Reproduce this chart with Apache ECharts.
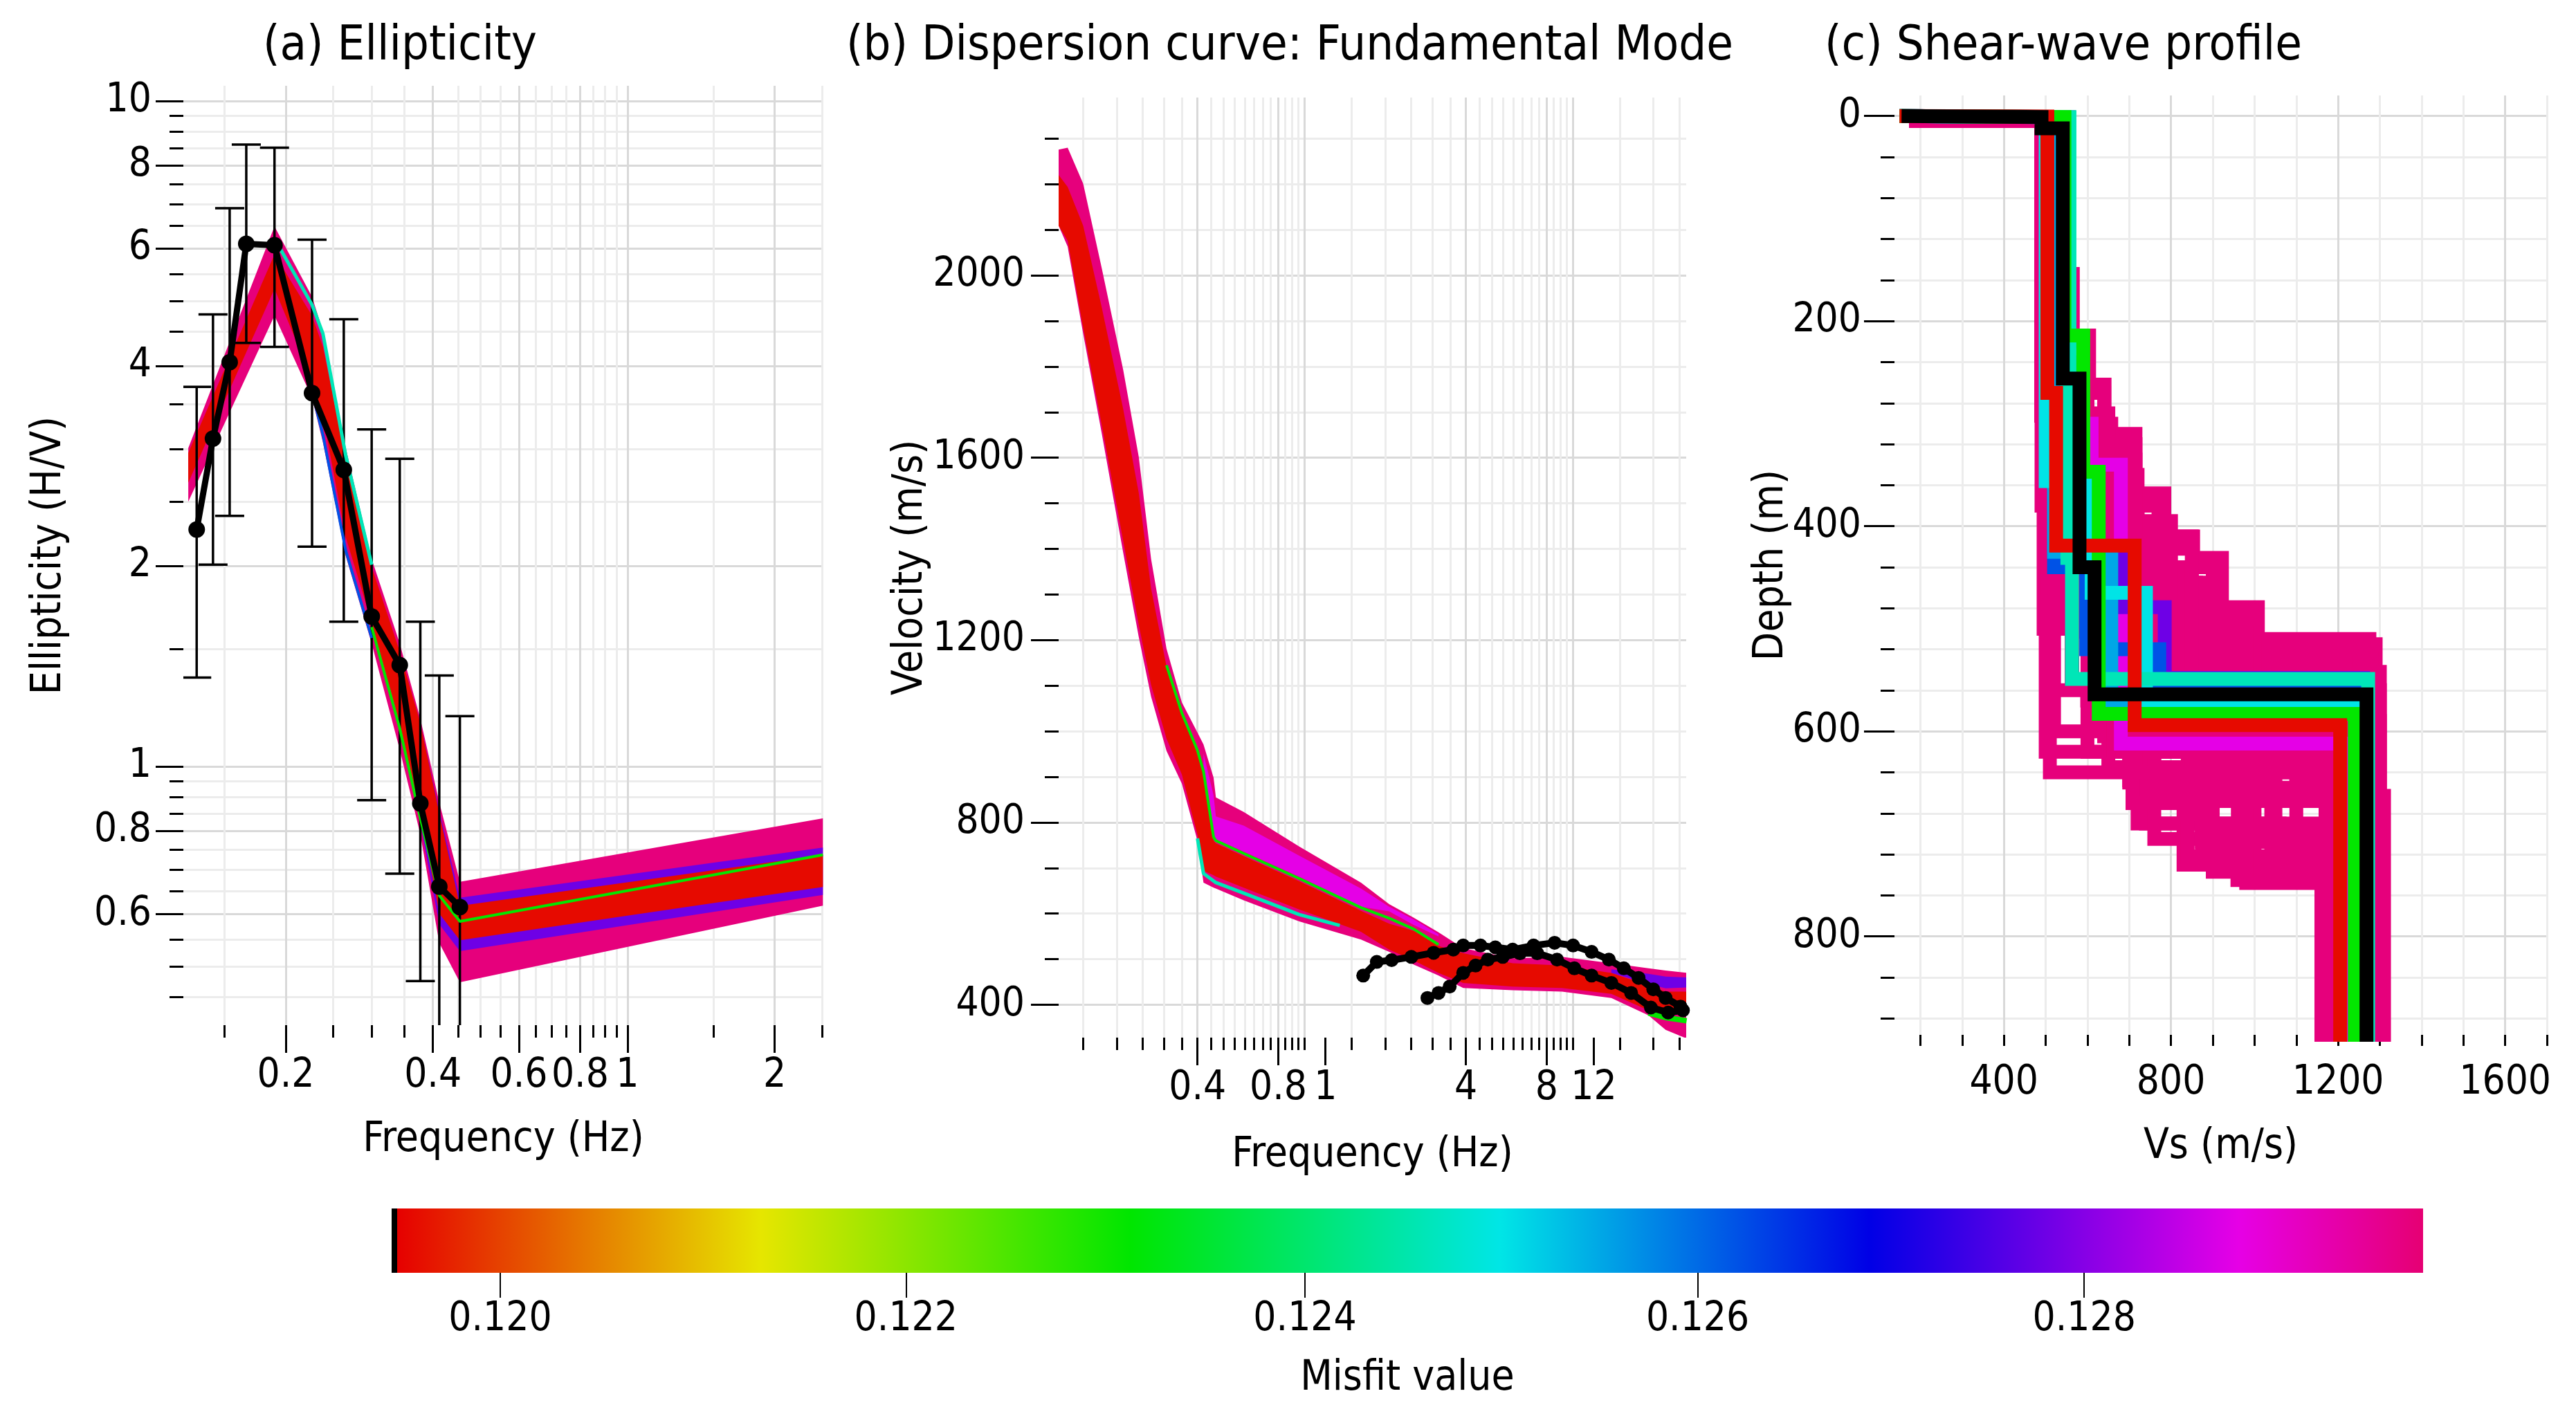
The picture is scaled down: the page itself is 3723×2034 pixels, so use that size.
<!DOCTYPE html>
<html>
<head>
<meta charset="utf-8">
<title>Ellipticity, dispersion and shear-wave profile</title>
<script src="https://cdn.jsdelivr.net/npm/echarts@6.0.0/dist/echarts.min.js"></script>
<style>
  html, body { margin: 0; padding: 0; background: #fff; }
  #chart { width: 3723px; height: 2034px; }
</style>
</head>
<body>
<div id="chart"></div>
<script>
var FONT = '"DejaVu Sans Condensed", "DejaVu Sans", sans-serif';
var MAJ = '#d9d9d9', MIN = '#ececec';
var L = function (v) { return Math.log10(v); };

// ---------- (a) ellipticity : observed points + error bars ----------
var ellObsFreq = [0.1315, 0.1420, 0.1536, 0.1661, 0.1897, 0.2264, 0.2629, 0.2998, 0.3422, 0.3770, 0.4122, 0.4542];
var ellObsVal  = [2.27, 3.11, 4.05, 6.10, 6.07, 3.64, 2.79, 1.68, 1.42, 0.88, 0.66, 0.615];
var ellErrHi   = [3.72, 4.78, 6.90, 8.60, 8.51, 6.19, 4.70, 3.21, 2.90, 1.65, 1.37, 1.19];
var ellErrLo   = [1.36, 2.01, 2.38, 4.33, 4.27, 2.14, 1.65, 0.89, 0.69, 0.476, 0.32, 0.32];

// model envelopes (a)
var ellModelFreq = [0.1264, 0.1897, 0.2264, 0.2383, 0.2654, 0.2998, 0.3422, 0.3770, 0.4122, 0.4542, 2.51];
var ellPinkHi = [3.01, 6.48, 5.08, 4.51, 3.01, 2.05, 1.53, 1.18, 0.883, 0.671, 0.836];
var ellPinkLo = [2.50, 4.76, 3.58, 3.07, 2.07, 1.53, 1.06, 0.791, 0.543, 0.474, 0.618];
var ellRedHi  = [2.96, 5.88, 4.76, 4.27, 2.90, 1.995, 1.488, 1.162, 0.851, 0.6175, 0.7365];
var ellRedLo  = [2.67, 5.22, 3.82, 3.36, 2.21, 1.646, 1.162, 0.851, 0.601, 0.548, 0.659];
var ellPurpleFreq = [0.3770, 0.4122, 0.4542, 2.51];
var ellPurpleHi = [1.162, 0.859, 0.635, 0.7556];
var ellPurpleLo = [0.82, 0.579, 0.528, 0.641];
var ellGreenFreq = [0.2998, 0.3422, 0.3770, 0.4122, 0.4542, 2.51];
var ellGreenVal  = [1.62, 1.14, 0.836, 0.64, 0.585, 0.7365];
var ellMintFreq = [0.1897, 0.2264, 0.2383, 0.2654, 0.2998];
var ellMintVal  = [6.21, 4.94, 4.47, 2.93, 2.01];
var ellBlueFreq = [0.2264, 0.2383, 0.2654, 0.2998];
var ellBlueVal  = [3.65, 3.15, 2.11, 1.56];

var ellXMajor = [0.2, 0.4, 0.6, 0.8, 1, 2];
var ellXLabels = ['0.2', '0.4', '0.6', '0.8', '1', '2'];
var ellXMinor = [0.15, 0.25, 0.3, 0.35, 0.45, 0.5, 0.55, 0.65, 0.7, 0.75, 0.85, 0.9, 0.95, 1.5, 2.5];
var ellYMajor = [0.6, 0.8, 1, 2, 4, 6, 8, 10];
var ellYLabels = ['0.6', '0.8', '1', '2', '4', '6', '8', '10'];
var ellYMinor = [0.45, 0.5, 0.55, 0.65, 0.7, 0.75, 0.85, 0.9, 0.95, 1.5, 2.5, 3, 3.5, 4.5, 5, 5.5, 6.5, 7, 7.5, 8.5, 9, 9.5];

// ---------- (b) dispersion curve ----------
var dispModelFreq = [0.1215, 0.1313, 0.1500, 0.1757, 0.2114, 0.2416, 0.2686, 0.3066, 0.3499, 0.3999, 0.4212, 0.4592, 0.4684,
                     0.5945, 0.9575, 1.627, 2.071, 2.560, 3.164, 3.91, 5.976, 9.13, 13.94, 19.16, 22.21, 26.6];
var dispPinkHi = [2276, 2280, 2201, 2017, 1793, 1602, 1378, 1181, 1063, 997, 971, 898, 855, 823, 747, 668, 621, 591, 559, 524, 502, 505, 491, 480, 475, 470];
var dispPinkLo = [2109, 2063, 1872, 1655, 1392, 1207, 1076, 957, 885, 760, 668, 657, 655, 629, 583, 543, 516, 488, 464, 437, 432, 429, 415, 377, 345, 326];
var dispRedHi  = [2220, 2194, 2109, 1931, 1707, 1523, 1313, 1142, 1036, 950, 905, 760, 754, 726, 671, 606, 578, 562, 529, 513, 491, 486, 470, 442, 429, 429];
var dispRedLo  = [2109, 2076, 1885, 1674, 1418, 1234, 1102, 984, 905, 773, 694, 684, 681, 657, 609, 560, 521, 497, 470, 448, 440, 437, 424, 388, 383, 383];
var dispMagentaFreq = [0.4212, 0.4592, 0.4684, 0.5945, 0.9575, 1.627, 2.071, 2.560, 3.164];
var dispMagentaHi = [951, 860, 813, 793, 727, 655, 615, 587, 555];
var dispMagentaLo = [905, 771, 763, 736, 681, 615, 605, 575, 550];
var dispPurpleFreq = [13.94, 19.16, 22.21, 26.6];
var dispPurpleHi = [478, 468, 462, 460];
var dispPurpleLo = [470, 446, 436, 438];
var dispGreenFreq = [0.3066, 0.3499, 0.3999, 0.4212, 0.4592, 0.4684, 0.5945, 0.9575, 1.627, 2.071, 2.560, 3.164];
var dispGreenVal  = [1145, 1040, 958, 912, 768, 760, 732, 677, 613, 590, 566, 532];
var dispGreen2Freq = [19.16, 22.21, 26.6];
var dispGreen2Val  = [382, 372, 365];
var dispMintFreq = [0.3999, 0.4212, 0.4684, 0.5945, 0.9575, 1.356];
var dispMintVal  = [765, 688, 668, 645, 598, 574];

var dispObsAFreq = [1.658, 1.863, 2.116, 2.506, 3.034, 3.593, 3.91, 4.536, 5.151, 5.976, 7.152, 8.568, 10.04, 11.77, 13.65, 15.51, 17.61, 19.98, 22.21, 25.24];
var dispObsAVel  = [464, 494, 498, 505, 514, 521, 530, 530, 526, 521, 530, 536, 530, 516, 499, 480, 459, 434, 415, 396];
var dispObsBFreq = [2.877, 3.164, 3.482, 3.91, 4.348, 4.832, 5.489, 6.365, 7.385, 8.75, 10.15, 11.77, 13.94, 16.52, 19.57, 22.7, 25.77];
var dispObsBVel  = [415, 426, 440, 470, 486, 499, 505, 513, 513, 499, 480, 464, 448, 426, 394, 383, 388];

var dispXLabelVals = [0.4, 0.8, 1.2, 4, 8, 12];
var dispXLabels = ['0.4', '0.8', '1', '4', '8', '12'];
var dispXMinor = [0.15, 0.2, 0.25, 0.3, 0.35, 0.45, 0.5, 0.55, 0.6, 0.65, 0.7, 0.75, 0.85, 0.9, 0.95, 1, 1.5, 2, 2.5, 3, 3.5,
                  4.5, 5, 5.5, 6, 6.5, 7, 7.5, 8.5, 9, 9.5, 10, 15, 20, 25];
var dispXGrid = [0.4, 0.8, 1, 4, 8, 10];
var dispYMajor = [400, 800, 1200, 1600, 2000];
var dispYMinor = [500, 600, 700, 900, 1000, 1100, 1300, 1400, 1500, 1700, 1800, 1900, 2100, 2200, 2300];

// ---------- (c) shear-wave profiles: layer velocity and layer top depth ----------
var pinkVs = [
  [190, 490, 505, 541, 563, 600, 663, 708, 832, 874, 959, 1170],
  [190, 555, 565, 604, 641, 657, 715, 784, 853, 922, 1008, 1275, 1296, 1310],
  [190, 500, 600, 700, 760, 850, 1250],
  [190, 495, 590, 680, 745, 800, 900, 1230],
  [190, 520, 640, 720, 790, 880, 960, 1170],
  [190, 510, 650, 770, 840, 950, 1280],
  [190, 505, 600, 700, 820, 1000, 1300],
  [190, 490, 560, 650, 700, 830, 1170],
  [190, 530, 600, 690, 760, 920, 1290],
  [190, 515, 580, 660, 740, 1060, 1170],
  [190, 540, 700, 780, 870, 1100, 1290],
  [190, 525, 610, 700, 900, 1240],
  [190, 500, 620, 760, 1000, 1170],
  [190, 510, 680, 860, 1100, 1240],
  [190, 500, 620, 1170],
  [190, 505, 640, 1200],
  [190, 510, 600, 1180],
  [190, 495, 650, 1050, 1170],
  [190, 500, 700, 1040, 1300],
  [190, 500, 660, 720, 1170],
  [190, 510, 760, 1180],
  [190, 520, 840, 1190],
  [190, 500, 900, 1160],
  [190, 510, 980, 1200],
  [190, 500, 700, 1290],
  [190, 505, 740, 1280],
  [190, 515, 780, 1300],
  [190, 505, 630, 880, 1250],
  [190, 510, 660, 900, 1200],
  [190, 500, 700, 820, 1250],
  [190, 520, 740, 960, 1180],
  [190, 530, 600, 860, 1280],
  [190, 510, 580, 650, 1230],
  [190, 500, 620, 720, 1300],
  [190, 490, 505, 541, 563, 600, 663, 708, 1170],
  [190, 490, 505, 541, 563, 600, 663, 708, 1180],
  [190, 490, 505, 541, 563, 600, 663, 708, 1200],
  [190, 490, 505, 541, 563, 600, 663, 708, 832, 874, 1170],
  [190, 490, 505, 541, 563, 600, 663, 708, 832, 874, 1180],
  [190, 490, 505, 541, 1000, 1250],
  [190, 490, 505, 541, 563, 980, 1280],
  [190, 490, 505, 900, 1230],
  [190, 490, 505, 541, 920, 1200],
  [190, 490, 505, 541, 900, 1180],
  [190, 490, 505, 780, 1250],
  [190, 490, 505, 800, 1240],
  [190, 490, 505, 850, 1260],
  [190, 490, 505, 850, 1230],
  [190, 490, 505, 715, 1260],
  [190, 490, 505, 715, 1240],
  [190, 490, 505, 715, 1280]
];
var pinkTop = [
  [0, 5, 292, 449, 497, 555, 570, 618, 670, 681, 715, 745],
  [0, 5, 154, 214, 262, 300, 310, 368, 410, 431, 479, 510, 549, 663],
  [0, 5, 240, 330, 400, 470, 530],
  [0, 5, 300, 360, 420, 460, 560, 620],
  [0, 5, 270, 350, 430, 500, 640, 700],
  [0, 5, 290, 380, 440, 505, 560],
  [0, 5, 250, 340, 450, 540, 590],
  [0, 5, 380, 470, 600, 650, 730],
  [0, 5, 220, 320, 445, 520, 580],
  [0, 5, 330, 480, 560, 690, 745],
  [0, 5, 360, 410, 470, 600, 650],
  [0, 5, 310, 420, 545, 610],
  [0, 5, 350, 520, 660, 740],
  [0, 5, 380, 480, 620, 700],
  [0, 5, 450, 590],
  [0, 5, 470, 605],
  [0, 5, 480, 620],
  [0, 5, 500, 635, 700],
  [0, 5, 480, 648, 720],
  [0, 5, 460, 560, 690],
  [0, 5, 560, 705],
  [0, 5, 600, 722],
  [0, 5, 620, 737],
  [0, 5, 640, 748],
  [0, 5, 440, 515],
  [0, 5, 460, 530],
  [0, 5, 470, 542],
  [0, 5, 420, 490, 600],
  [0, 5, 400, 480, 560],
  [0, 5, 390, 470, 520],
  [0, 5, 420, 495, 580],
  [0, 5, 330, 455, 545],
  [0, 5, 270, 360, 600],
  [0, 5, 300, 380, 560],
  [0, 5, 292, 449, 497, 555, 570, 618, 655],
  [0, 5, 292, 449, 497, 555, 570, 618, 668],
  [0, 5, 292, 449, 497, 555, 570, 618, 640],
  [0, 5, 292, 449, 497, 555, 570, 618, 670, 681, 695],
  [0, 5, 292, 449, 497, 555, 570, 618, 670, 681, 708],
  [0, 5, 292, 449, 490, 560],
  [0, 5, 292, 449, 497, 503, 575],
  [0, 5, 292, 440, 590],
  [0, 5, 292, 449, 455, 600],
  [0, 5, 292, 449, 468, 610],
  [0, 5, 292, 380, 560],
  [0, 5, 292, 395, 570],
  [0, 5, 292, 410, 585],
  [0, 5, 292, 422, 630],
  [0, 5, 292, 320, 620],
  [0, 5, 292, 335, 640],
  [0, 5, 292, 350, 600]
];
var magentaVs = [150, 555, 610, 680, 1210],      magentaTop = [0, 1, 300, 340, 612];
var purpleVs  = [150, 525, 683, 785, 1260],      purpleTop  = [0, 1, 430, 479, 548];
var blueVs    = [150, 520, 597, 772, 1258],      blueTop    = [0, 1, 440, 520, 560];
var skyVs     = [150, 520, 657, 1250],           skyTop     = [0, 1, 425, 572];
var cyanVs    = [150, 500, 610, 740, 1245],      cyanTop    = [0, 1, 356, 465, 576];
var mintVs    = [150, 557, 552, 563, 1272],      mintTop    = [0, 1, 262, 431, 549];
var greenVs   = [150, 545, 590, 627, 1240],      greenTop   = [0, 1, 214, 347, 583];
var redVs     = [150, 504, 525, 713, 1205],      redTop     = [0, 0.5, 270, 419, 594];
var bestVs    = [155, 490, 541, 581, 617, 1268], bestTop    = [0, 1, 12, 256, 440, 564];
var profileEnd = 950;

var profXMajor = [400, 800, 1200, 1600];
var profXMinor = [200, 300, 500, 600, 700, 900, 1000, 1100, 1300, 1400, 1500, 1700];
var profYMajor = [0, 200, 400, 600, 800];
var profYMinor = [40, 80, 120, 160, 240, 280, 320, 360, 440, 480, 520, 560, 640, 680, 720, 760, 840, 880];

// ---------- misfit values and colour scale ----------
var misfitPink = 0.1297, misfitMagenta = 0.1288, misfitPurple = 0.1278, misfitBlue = 0.1262,
    misfitSky = 0.1255, misfitCyan = 0.1250, misfitMint = 0.1246, misfitGreen = 0.1231, misfitRed = 0.11955;
var cbMin = 0.11947, cbMax = 0.12978;
var cbTicks = [0.120, 0.122, 0.124, 0.126, 0.128];
var cbLabels = ['0.120', '0.122', '0.124', '0.126', '0.128'];

function hueColor(h) {
  var c = 230, hp = h / 60, x = c * (1 - Math.abs(hp % 2 - 1)), r = 0, g = 0, b = 0;
  if (hp < 1) { r = c; g = x; } else if (hp < 2) { r = x; g = c; } else if (hp < 3) { g = c; b = x; }
  else if (hp < 4) { g = x; b = c; } else if (hp < 5) { r = x; b = c; } else { r = c; b = x; }
  return 'rgb(' + Math.round(r) + ',' + Math.round(g) + ',' + Math.round(b) + ')';
}
function misfitColor(m) {
  var t = (L(m) - L(cbMin)) / (L(cbMax) - L(cbMin));
  return hueColor(330 * Math.max(0, Math.min(1, t)));
}

// ---------- helpers ----------
function fmt(values, labels) {
  return function (v) {
    for (var i = 0; i < values.length; i++) if (Math.abs(values[i] - v) < 1e-6) return labels[i];
    return '';
  };
}
function axis(gridIndex, min, max, values, o) {
  var ax = {
    type: 'value', gridIndex: gridIndex, min: min, max: max, inverse: !!o.inverse, position: o.position,
    axisLine: { show: false, onZero: false },
    axisTick: { show: !!o.tickLen, customValues: values, length: o.tickLen || 0,
                lineStyle: { color: '#000', width: o.tickWidth || 3 } },
    axisLabel: { show: false },
    splitLine: { show: !!o.grid, customValues: values, lineStyle: { color: o.grid, width: 3 } },
    minorTick: { show: false }, minorSplitLine: { show: false },
    silent: true
  };
  if (o.labels) {
    ax.axisLabel = { show: true, customValues: values, formatter: fmt(values, o.labels), hideOverlap: false,
                     fontSize: 58, fontFamily: FONT, color: '#000', margin: o.margin };
  }
  if (o.name) {
    ax.name = o.name; ax.nameLocation = 'middle'; ax.nameGap = o.nameGap; ax.nameMoveOverlap = false;
    ax.nameTextStyle = { fontSize: 60, fontFamily: FONT, color: '#000' };
  }
  return ax;
}
function band(xi, yi, freq, hi, lo, misfit, logY) {
  var ty = logY ? L : function (v) { return v; };
  var ring = [];
  for (var i = 0; i < freq.length; i++) ring.push([L(freq[i]), ty(hi[i])]);
  for (var j = freq.length - 1; j >= 0; j--) ring.push([L(freq[j]), ty(lo[j])]);
  var color = misfitColor(misfit);
  return {
    type: 'custom', xAxisIndex: xi, yAxisIndex: yi, clip: true, silent: true, data: ring,
    renderItem: function (params, api) {
      if (params.dataIndex !== 0) return null;
      var pts = [];
      for (var k = 0; k < params.dataInsideLength; k++) pts.push(api.coord([api.value(0, k), api.value(1, k)]));
      return { type: 'polygon', shape: { points: pts }, style: { fill: color } };
    }
  };
}
function curve(xi, yi, freq, vals, color, width, logY) {
  return {
    type: 'line', xAxisIndex: xi, yAxisIndex: yi, silent: true, clip: true, showSymbol: false,
    data: freq.map(function (f, i) { return [L(f), logY ? L(vals[i]) : vals[i]]; }),
    lineStyle: { color: color, width: width }
  };
}
function observed(xi, yi, freq, vals, width, size, logY) {
  return {
    type: 'line', xAxisIndex: xi, yAxisIndex: yi, silent: true, clip: true,
    symbol: 'circle', symbolSize: size, showSymbol: true,
    data: freq.map(function (f, i) { return [L(f), logY ? L(vals[i]) : vals[i]]; }),
    itemStyle: { color: '#000' }, lineStyle: { color: '#000', width: width }
  };
}
function profile(vs, top, color) {
  var pts = [];
  for (var i = 0; i < vs.length; i++) {
    var bottom = i + 1 < top.length ? top[i + 1] : profileEnd;
    pts.push([vs[i], top[i]], [vs[i], bottom]);
  }
  return {
    type: 'line', xAxisIndex: 5, yAxisIndex: 4, silent: true, clip: true, showSymbol: false, data: pts,
    lineStyle: { color: color, width: 20, join: 'miter', cap: 'butt' }
  };
}

// ---------- series ----------
var series = [];
// (a)
series.push(band(0, 0, ellModelFreq, ellPinkHi, ellPinkLo, misfitPink, true));
series.push(band(0, 0, ellPurpleFreq, ellPurpleHi, ellPurpleLo, misfitPurple, true));
series.push(band(0, 0, ellModelFreq, ellRedHi, ellRedLo, misfitRed, true));
series.push(curve(0, 0, ellBlueFreq, ellBlueVal, misfitColor(misfitBlue), 4, true));
series.push(curve(0, 0, ellMintFreq, ellMintVal, misfitColor(misfitMint), 5, true));
series.push(curve(0, 0, ellGreenFreq, ellGreenVal, misfitColor(misfitGreen), 4, true));
series.push({
  type: 'custom', xAxisIndex: 0, yAxisIndex: 0, clip: true, silent: true,
  data: ellObsFreq.map(function (f, i) { return [L(f), L(ellErrLo[i]), L(ellErrHi[i])]; }),
  encode: { x: 0, y: [1, 2] },
  renderItem: function (params, api) {
    var lo = api.coord([api.value(0), api.value(1)]);
    var hi = api.coord([api.value(0), api.value(2)]);
    var st = { stroke: '#000', lineWidth: 3.5 };
    return { type: 'group', children: [
      { type: 'line', shape: { x1: lo[0], y1: lo[1], x2: hi[0], y2: hi[1] }, style: st },
      { type: 'line', shape: { x1: lo[0] - 21, y1: lo[1], x2: lo[0] + 21, y2: lo[1] }, style: st },
      { type: 'line', shape: { x1: hi[0] - 21, y1: hi[1], x2: hi[0] + 21, y2: hi[1] }, style: st }
    ] };
  }
});
series.push(observed(0, 0, ellObsFreq, ellObsVal, 9, 24, true));
// (b)
series.push(band(2, 2, dispModelFreq, dispPinkHi, dispPinkLo, misfitPink, false));
series.push(band(2, 2, dispMagentaFreq, dispMagentaHi, dispMagentaLo, misfitMagenta, false));
series.push(band(2, 2, dispPurpleFreq, dispPurpleHi, dispPurpleLo, misfitPurple, false));
series.push(band(2, 2, dispModelFreq, dispRedHi, dispRedLo, misfitRed, false));
series.push(curve(2, 2, dispMintFreq, dispMintVal, misfitColor(misfitMint), 5, false));
series.push(curve(2, 2, dispGreenFreq, dispGreenVal, misfitColor(misfitGreen), 4, false));
series.push(curve(2, 2, dispGreen2Freq, dispGreen2Val, misfitColor(misfitGreen), 8, false));
series.push(observed(2, 2, dispObsAFreq, dispObsAVel, 10, 20, false));
series.push(observed(2, 2, dispObsBFreq, dispObsBVel, 10, 20, false));
// (c)
var pinkColor = misfitColor(misfitPink);
for (var p = 0; p < pinkVs.length; p++) series.push(profile(pinkVs[p], pinkTop[p], pinkColor));
series.push(profile(magentaVs, magentaTop, misfitColor(misfitMagenta)));
series.push(profile(purpleVs, purpleTop, misfitColor(misfitPurple)));
series.push(profile(blueVs, blueTop, misfitColor(misfitBlue)));
series.push(profile(skyVs, skyTop, misfitColor(misfitSky)));
series.push(profile(cyanVs, cyanTop, misfitColor(misfitCyan)));
series.push(profile(mintVs, mintTop, misfitColor(misfitMint)));
series.push(profile(greenVs, greenTop, misfitColor(misfitGreen)));
series.push(profile(redVs, redTop, misfitColor(misfitRed)));
series.push(profile(bestVs, bestTop, '#000'));
// colour bar
var cbStops = [{ offset: 0, color: '#000' }, { offset: 0.0028, color: '#000' }];
for (var s = 0; s < 12; s++) cbStops.push({ offset: Math.max(0.0028, s / 11), color: hueColor(30 * s) });
series.push({
  type: 'custom', xAxisIndex: 7, yAxisIndex: 6, silent: true,
  data: [[L(cbMin), L(cbMax)]],
  renderItem: function (params, api) {
    var a = api.coord([api.value(0), 1]);
    var b = api.coord([api.value(1), 0]);
    return { type: 'rect', shape: { x: a[0], y: a[1], width: b[0] - a[0], height: b[1] - a[1] },
             style: { fill: { type: 'linear', x: 0, y: 0, x2: 1, y2: 0, colorStops: cbStops } } };
  }
});

var option = {
  animation: false,
  backgroundColor: '#fff',
  textStyle: { fontFamily: FONT },
  grid: [
    { left: 265, top: 124, width: 925, height: 1358, outerBoundsMode: 'none' },
    { left: 1530, top: 141, width: 907, height: 1359, outerBoundsMode: 'none' },
    { left: 2738, top: 138, width: 943, height: 1358, outerBoundsMode: 'none' },
    { left: 566, top: 1747, width: 2936, height: 93, outerBoundsMode: 'none' }
  ],
  xAxis: [
    axis(0, L(0.1235), L(2.516), ellXMajor.map(L), { position: 'bottom', tickLen: 40, grid: MAJ, labels: ellXLabels, margin: 45, name: 'Frequency (Hz)', nameGap: 136 }),
    axis(0, L(0.1235), L(2.516), ellXMinor.map(L), { position: 'bottom', tickLen: 18, grid: MIN }),
    axis(1, L(0.1215), L(26.5), dispXLabelVals.map(L), { position: 'bottom', tickLen: 40, labels: dispXLabels, margin: 45, name: 'Frequency (Hz)', nameGap: 140 }),
    axis(1, L(0.1215), L(26.5), dispXMinor.map(L), { position: 'bottom', tickLen: 18, grid: MIN }),
    axis(1, L(0.1215), L(26.5), dispXGrid.map(L), { position: 'bottom', grid: MAJ }),
    axis(2, 138, 1700, profXMajor, { position: 'bottom', tickLen: 16, grid: MAJ, labels: profXMajor.map(String), margin: 41, name: 'Vs (m/s)', nameGap: 132 }),
    axis(2, 138, 1700, profXMinor, { position: 'bottom', tickLen: 16, grid: MIN }),
    axis(3, L(cbMin), L(cbMax), cbTicks.map(L), { position: 'bottom', tickLen: 36, tickWidth: 2, labels: cbLabels, margin: 39, name: 'Misfit value', nameGap: 123 })
  ],
  yAxis: [
    axis(0, L(0.4086), L(10.54), ellYMajor.map(L), { position: 'left', tickLen: 40, grid: MAJ, labels: ellYLabels, margin: 46, name: 'Ellipticity (H/V)', nameGap: 164 }),
    axis(0, L(0.4086), L(10.54), ellYMinor.map(L), { position: 'left', tickLen: 20, grid: MIN }),
    axis(1, 328, 2390, dispYMajor, { position: 'left', tickLen: 40, grid: MAJ, labels: dispYMajor.map(String), margin: 49, name: 'Velocity (m/s)', nameGap: 184 }),
    axis(1, 328, 2390, dispYMinor, { position: 'left', tickLen: 20, grid: MIN }),
    axis(2, -20, 896, profYMajor, { position: 'left', inverse: true, tickLen: 44, grid: MAJ, labels: profYMajor.map(String), margin: 48, name: 'Depth (m)', nameGap: 148 }),
    axis(2, -20, 896, profYMinor, { position: 'left', inverse: true, tickLen: 20, grid: MIN }),
    { type: 'value', gridIndex: 3, min: 0, max: 1, show: false }
  ],
  graphic: [
    { type: 'text', x: 578, y: 68, silent: true, style: { text: '(a) Ellipticity', fontSize: 70, fontFamily: FONT, fill: '#000', align: 'center', textAlign: 'center', verticalAlign: 'middle', textVerticalAlign: 'middle' } },
    { type: 'text', x: 1864, y: 68, silent: true, style: { text: '(b) Dispersion curve: Fundamental Mode', fontSize: 70, fontFamily: FONT, fill: '#000', align: 'center', textAlign: 'center', verticalAlign: 'middle', textVerticalAlign: 'middle' } },
    { type: 'text', x: 2982, y: 68, silent: true, style: { text: '(c) Shear-wave profile', fontSize: 70, fontFamily: FONT, fill: '#000', align: 'center', textAlign: 'center', verticalAlign: 'middle', textVerticalAlign: 'middle' } }
  ],
  series: series
};

var chart = echarts.init(document.getElementById('chart'));
chart.setOption(option);
</script>
</body>
</html>
